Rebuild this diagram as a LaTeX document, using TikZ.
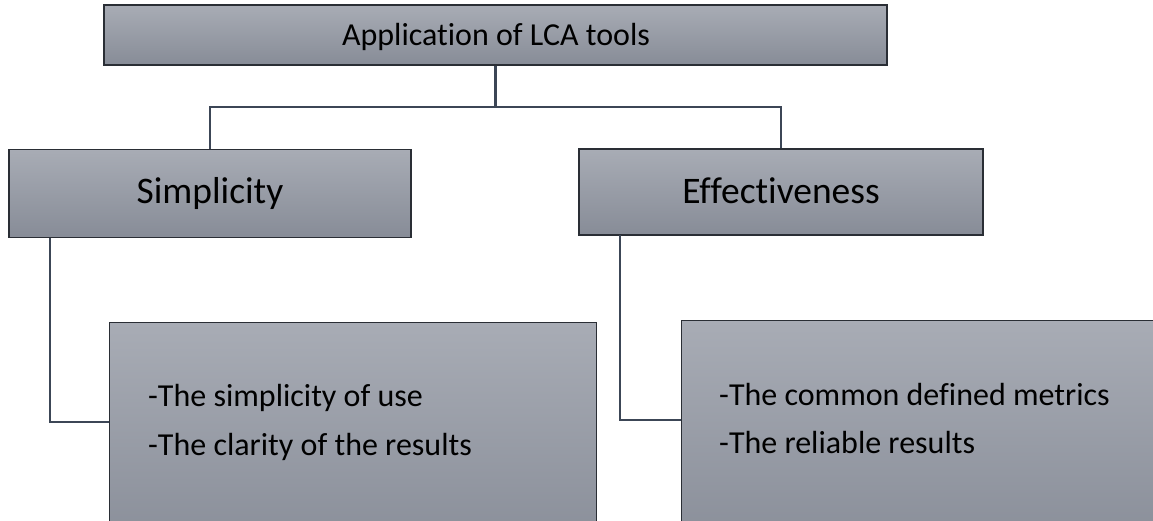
\documentclass[tikz,border=0pt]{standalone}
\usepackage{fontspec}
\setmainfont{Carlito}[Ligatures=CommonOff]
\definecolor{boxtop}{HTML}{A8ACB5}
\definecolor{boxbot}{HTML}{878C97}
\definecolor{boxline}{HTML}{2A2E35}
\definecolor{conn}{HTML}{3C4656}
\begin{document}
\begin{tikzpicture}[x=1pt,y=1pt,
  gbox/.style={rectangle, draw=boxline, line width=1.3pt, top color=boxtop, bottom color=boxbot, inner sep=0pt},
  link/.style={draw=conn, line width=2.2pt},
  txt/.style={inner sep=0pt, text=black},
  small/.style={font=\fontsize{32}{38}\selectfont},
  big/.style={font=\fontsize{37.5}{44}\selectfont}]
\useasboundingbox (0,0) rectangle (1153,-520);
\clip (0,0) rectangle (1153,-520);
% boxes
\node[gbox, minimum width=783, minimum height=60] (top) at (495.5,-35) {};
\node[txt, small, anchor=base] (toptext) at (496,-45) {Application of LCA tools};
\node[gbox, minimum width=402, minimum height=88] (simp) at (210,-193.5) {};
\node[txt, big, anchor=base] (simptext) at (210,-203) {Simplicity};
\node[gbox, minimum width=404, minimum height=86] (eff) at (781,-192) {};
\node[txt, big, anchor=base] (efftext) at (781,-203) {Effectiveness};
\node[gbox, anchor=north west, minimum width=487, minimum height=240] (sbox) at (109,-322) {};
\node[gbox, anchor=north west, minimum width=520, minimum height=240] (ebox) at (681,-320) {};
\node[txt, small, anchor=base west] (s1) at (148,-406) {-The simplicity of use};
\node[txt, small, anchor=base west] (s2) at (148,-455) {-The clarity of the results};
\node[txt, small, anchor=base west] (e1) at (719,-405) {-The common defined metrics};
\node[txt, small, anchor=base west] (e2) at (719,-453) {-The reliable results};
% connectors
\coordinate (j) at (495.5,-107);
\draw[link] (top.south) -- (j);
\draw[link] (simp.north) |- (j) -| (eff.north);
\coordinate (sl) at (50,-237.5);
\coordinate (el) at (620,-235);
\draw[link] (sl) |- (sbox.west |- 0,-422);
\draw[link] (el) |- (ebox.west |- 0,-420);
\end{tikzpicture}
\end{document}
